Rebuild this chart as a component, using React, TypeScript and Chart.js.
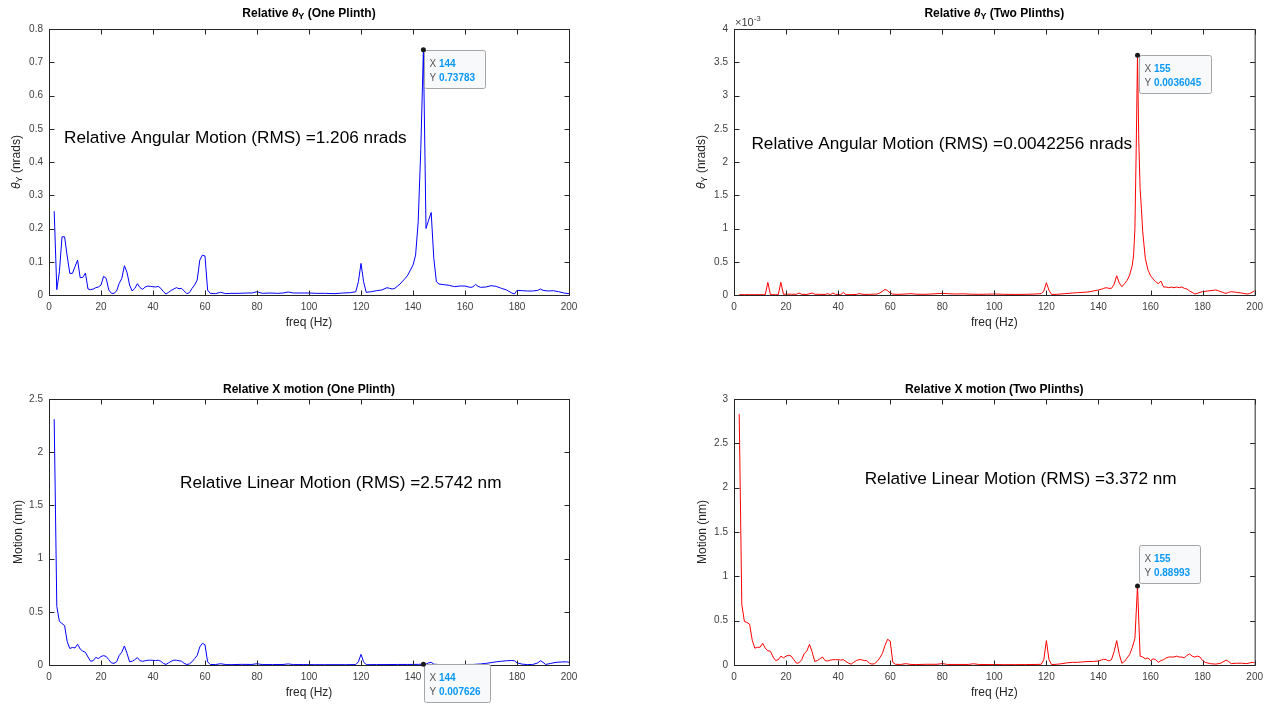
import React, { useEffect, useRef } from 'react';
import { Chart, registerables } from 'chart.js';

Chart.register(...registerables);

const FONT = '"Liberation Sans", Arial, Helvetica, sans-serif';
Chart.defaults.font.family = FONT;

// ---------- Data (freq in Hz) ----------
const freqThetaOne = [
  2, 3, 4, 5, 6, 7, 8, 9, 10, 11, 12, 13, 14, 15, 16, 17, 18, 19, 20, 21, 22, 23, 24, 25, 26, 27, 28, 29, 30, 31, 32,
  33, 34, 35, 36, 37, 38, 39, 40, 41, 42, 43, 44, 45, 46, 47, 48, 49, 50, 51, 52, 53, 54, 55, 56, 57, 58, 59, 60, 61,
  62, 64, 66, 68, 70, 73, 76, 78, 80, 82, 85, 88, 90, 92, 94, 97, 100, 103, 106, 110, 113, 116, 118, 119, 120, 121,
  122, 124, 126, 128, 130, 131, 132, 133, 135, 137, 138, 139, 140, 141, 142, 143, 144, 145, 146, 147, 148, 149, 150,
  152, 154, 156, 158, 160, 162, 163, 164, 165, 166, 168, 170, 172, 174, 176, 178, 179, 180, 182, 184, 186, 188, 189,
  190, 192, 194, 196, 198, 200,
];
const thetaOne = [
  0.252, 0.016, 0.07, 0.175, 0.175, 0.117, 0.065, 0.065, 0.085, 0.105, 0.052, 0.053, 0.066, 0.018, 0.016, 0.018,
  0.022, 0.024, 0.03, 0.056, 0.05, 0.015, 0.005, 0.005, 0.012, 0.035, 0.05, 0.088, 0.068, 0.03, 0.012, 0.02, 0.034,
  0.022, 0.017, 0.024, 0.027, 0.026, 0.025, 0.024, 0.026, 0.02, 0.01, 0.003, 0.008, 0.014, 0.018, 0.022, 0.019, 0.02,
  0.012, 0.004, 0.007, 0.02, 0.03, 0.045, 0.105, 0.12, 0.117, 0.015, 0.005, 0.004, 0.008, 0.004, 0.005, 0.005, 0.006,
  0.006, 0.01, 0.005, 0.006, 0.005, 0.006, 0.009, 0.006, 0.006, 0.006, 0.005, 0.005, 0.004, 0.006, 0.007, 0.01, 0.04,
  0.095, 0.04, 0.008, 0.01, 0.013, 0.015, 0.022, 0.02, 0.018, 0.02, 0.033, 0.05, 0.06, 0.075, 0.09, 0.12, 0.22, 0.44,
  0.73783, 0.2, 0.225, 0.248, 0.11, 0.04, 0.033, 0.031, 0.029, 0.025, 0.027, 0.027, 0.023, 0.024, 0.032, 0.026, 0.023,
  0.024, 0.028, 0.026, 0.02, 0.015, 0.006, 0.003, 0.014, 0.013, 0.012, 0.012, 0.014, 0.018, 0.014, 0.012, 0.013, 0.01,
  0.006, 0.004,
];

const freqThetaTwo = [
  2, 4, 6, 8, 10, 12, 13, 14, 16, 17, 18, 19, 20, 22, 24, 25, 26, 28, 30, 31, 33, 35, 36, 37, 38, 39, 41, 42, 43, 45,
  47, 48, 50, 52, 54, 55, 56, 57, 58, 59, 60, 61, 63, 66, 68, 70, 73, 76, 78, 80, 82, 85, 88, 91, 94, 97, 100, 104,
  108, 112, 116, 118, 119, 120, 121, 122, 124, 127, 130, 132, 134, 136, 138, 140, 141, 142, 143, 144, 145, 146, 147,
  148, 149, 150, 151, 152, 153, 153.5, 154, 154.5, 155, 155.5, 156, 156.5, 157, 158, 159, 160, 161, 162, 163, 164,
  165, 166, 167, 168, 169, 170, 171, 172, 173, 174, 175, 176, 177, 178, 179, 180, 182, 184, 185, 186, 188, 189, 190,
  191, 193, 195, 197, 198, 199, 200,
];
// values in units of 1e-3 nrads
const thetaTwoE3 = [
  0.005, 0.005, 0.005, 0.005, 0.005, 0.005, 0.19, 0.005, 0.005, 0.005, 0.19, 0.01, 0.012, 0.012, 0.01, 0.03, 0.01,
  0.008, 0.03, 0.012, 0.01, 0.008, 0.02, 0.005, 0.03, 0.01, 0.005, 0.04, 0.005, 0.006, 0.008, 0.02, 0.008, 0.01, 0.012,
  0.015, 0.03, 0.055, 0.085, 0.065, 0.03, 0.012, 0.01, 0.015, 0.02, 0.012, 0.01, 0.015, 0.02, 0.025, 0.02, 0.015, 0.018,
  0.012, 0.01, 0.012, 0.015, 0.01, 0.008, 0.01, 0.015, 0.02, 0.06, 0.185, 0.07, 0.008, 0.01, 0.02, 0.03, 0.035, 0.04,
  0.045, 0.06, 0.075, 0.085, 0.1, 0.11, 0.1, 0.1, 0.16, 0.29, 0.18, 0.125, 0.17, 0.22, 0.3, 0.45, 0.6, 1.0, 2.2,
  3.6045, 2.3, 1.6, 1.3, 0.95, 0.55, 0.38, 0.29, 0.24, 0.2, 0.17, 0.21, 0.12, 0.12, 0.11, 0.12, 0.11, 0.12, 0.11, 0.12,
  0.1, 0.09, 0.06, 0.04, 0.015, 0.025, 0.04, 0.05, 0.06, 0.07, 0.075, 0.065, 0.035, 0.025, 0.04, 0.05, 0.04, 0.03,
  0.015, 0.02, 0.04, 0.065,
];

const freqXOne = [
  2, 3, 4, 5, 6, 7, 8, 9, 10, 11, 12, 13, 14, 15, 16, 17, 18, 19, 20, 21, 22, 23, 24, 25, 26, 27, 28, 29, 30, 31, 32,
  33, 34, 35, 36, 37, 38, 39, 40, 41, 42, 43, 44, 45, 46, 47, 48, 49, 50, 51, 52, 53, 54, 55, 56, 57, 58, 59, 60, 61,
  62, 64, 66, 68, 70, 74, 78, 80, 82, 86, 90, 92, 94, 98, 102, 106, 110, 114, 118, 119, 120, 121, 122, 126, 130, 134,
  138, 142, 144, 145, 146, 147, 148, 150, 155, 160, 163, 166, 168, 170, 172, 174, 176, 178, 179, 180, 182, 184, 186,
  188, 189, 190, 191, 193, 195, 197, 199, 200,
];
const xOne = [
  2.31, 0.55, 0.41, 0.39, 0.37, 0.22, 0.155, 0.165, 0.16, 0.195, 0.15, 0.13, 0.12, 0.075, 0.035, 0.04, 0.072, 0.06,
  0.08, 0.088, 0.08, 0.05, 0.02, 0.015, 0.03, 0.09, 0.12, 0.179, 0.11, 0.03, 0.035, 0.05, 0.07, 0.04, 0.035, 0.04,
  0.045, 0.045, 0.044, 0.042, 0.045, 0.035, 0.015, 0.005, 0.02, 0.035, 0.045, 0.045, 0.04, 0.035, 0.015, 0.005, 0.01,
  0.03, 0.06, 0.09, 0.17, 0.204, 0.19, 0.03, 0.005, 0.004, 0.012, 0.004, 0.003, 0.006, 0.005, 0.012, 0.004, 0.004,
  0.005, 0.01, 0.004, 0.004, 0.003, 0.003, 0.003, 0.003, 0.004, 0.03, 0.1, 0.03, 0.003, 0.004, 0.004, 0.005, 0.005,
  0.006, 0.007626, 0.008, 0.02, 0.025, 0.008, 0.004, 0.004, 0.005, 0.005, 0.01, 0.015, 0.022, 0.03, 0.035, 0.04, 0.042,
  0.04, 0.02, 0.008, 0.004, 0.004, 0.02, 0.04, 0.025, 0.005, 0.015, 0.025, 0.028, 0.03, 0.025,
];

const freqXTwo = [
  2, 3, 4, 5, 6, 7, 8, 9, 10, 11, 12, 13, 14, 15, 16, 17, 18, 19, 20, 21, 22, 23, 24, 25, 26, 27, 28, 29, 30, 31, 32,
  33, 34, 35, 36, 37, 38, 39, 40, 41, 42, 43, 44, 45, 46, 47, 48, 49, 50, 51, 52, 53, 54, 55, 56, 57, 58, 59, 60, 61,
  62, 64, 66, 68, 70, 74, 78, 80, 82, 86, 90, 92, 94, 98, 100, 104, 108, 112, 116, 118, 119, 120, 121, 122, 124, 126,
  128, 130, 132, 134, 136, 138, 140, 141, 142, 143, 144, 145, 146, 147, 148, 149, 150, 151, 152, 153, 154, 155, 156,
  157, 158, 159, 160, 161, 162, 163, 164, 165, 166, 167, 168, 169, 170, 171, 172, 173, 174, 175, 176, 177, 178, 179,
  180, 181, 183, 185, 187, 189, 190, 191, 193, 195, 197, 199, 200,
];
const xTwo = [
  2.83, 0.68, 0.49, 0.48, 0.46, 0.28, 0.19, 0.2, 0.2, 0.245, 0.19, 0.16, 0.155, 0.09, 0.05, 0.06, 0.1, 0.08, 0.1, 0.11,
  0.1, 0.06, 0.02, 0.025, 0.06, 0.13, 0.16, 0.233, 0.15, 0.04, 0.05, 0.07, 0.09, 0.05, 0.045, 0.055, 0.06, 0.06, 0.06,
  0.055, 0.06, 0.04, 0.02, 0.01, 0.03, 0.05, 0.06, 0.06, 0.05, 0.05, 0.02, 0.01, 0.015, 0.04, 0.08, 0.13, 0.22, 0.29,
  0.27, 0.03, 0.008, 0.006, 0.015, 0.006, 0.005, 0.008, 0.008, 0.016, 0.006, 0.006, 0.006, 0.014, 0.006, 0.005, 0.005,
  0.004, 0.004, 0.005, 0.006, 0.008, 0.06, 0.275, 0.06, 0.005, 0.008, 0.015, 0.025, 0.03, 0.03, 0.035, 0.04, 0.04,
  0.045, 0.055, 0.065, 0.06, 0.045, 0.06, 0.15, 0.275, 0.12, 0.02, 0.04, 0.08, 0.12, 0.2, 0.3, 0.88993, 0.1, 0.09,
  0.07, 0.08, 0.05, 0.07, 0.06, 0.03, 0.05, 0.06, 0.08, 0.09, 0.09, 0.09, 0.1, 0.09, 0.09, 0.08, 0.11, 0.125, 0.1,
  0.09, 0.1, 0.09, 0.05, 0.03, 0.015, 0.01, 0.02, 0.055, 0.04, 0.015, 0.02, 0.02, 0.015, 0.03, 0.025,
];

const xTicks = [0, 20, 40, 60, 80, 100, 120, 140, 160, 180, 200];

// ---------- Rendering helpers ----------
type Seg = { text: string; font: string; dy?: number };

function drawSegs(ctx: CanvasRenderingContext2D, segs: Seg[], x: number, y: number, align: 'left' | 'center') {
  const widths = segs.map((s) => {
    ctx.font = s.font;
    return ctx.measureText(s.text).width;
  });
  const total = widths.reduce((a, b) => a + b, 0);
  let cx = align === 'center' ? x - total / 2 : x;
  ctx.textAlign = 'left';
  ctx.textBaseline = 'middle';
  segs.forEach((s, i) => {
    ctx.font = s.font;
    ctx.fillText(s.text, cx, y + (s.dy || 0));
    cx += widths[i];
  });
}

function thetaTitle(suffix: string): Seg[] {
  return [
    { text: 'Relative ', font: `bold 12px ${FONT}` },
    { text: 'θ', font: `italic bold 12px ${FONT}` },
    { text: 'Y', font: `bold 9px ${FONT}`, dy: 3 },
    { text: ' ' + suffix, font: `bold 12px ${FONT}` },
  ];
}

const thetaYLabel: Seg[] = [
  { text: 'θ', font: `italic 12px ${FONT}` },
  { text: 'Y', font: `9px ${FONT}`, dy: 3 },
  { text: ' (nrads)', font: `12px ${FONT}` },
];

interface PanelCfg {
  key: string;
  left: number;
  top: number;
  w: number;
  h: number;
  area: { l: number; t: number; r: number; b: number };
  points: { x: number; y: number }[];
  color: string;
  yMax: number;
  yStep: number;
  yFmt?: (v: number) => string;
  title: Seg[];
  titleY: number;
  yLabel: Seg[];
  yLabelDx: number;
  note: { text: string; x: number; y: number };
  tip: { x: number; y: number; xs: string; ys: string; above: boolean };
  exponent?: boolean;
}

function makePlugin(cfg: PanelCfg) {
  return {
    id: 'decor_' + cfg.key,
    afterDraw(chart: any) {
      const ctx: CanvasRenderingContext2D = chart.ctx;
      const { left: l, top: t, right: r, bottom: b } = chart.chartArea;
      const xs = chart.scales.x;
      const ys = chart.scales.y;
      ctx.save();
      // axes box
      ctx.strokeStyle = '#262626';
      ctx.lineWidth = 1;
      ctx.strokeRect(l + 0.5, t + 0.5, r - l, b - t);
      // inward ticks
      const TL = 5;
      ctx.beginPath();
      xs.ticks.forEach((tk: any) => {
        const px = Math.round(xs.getPixelForValue(tk.value)) + 0.5;
        ctx.moveTo(px, b + 0.5);
        ctx.lineTo(px, b + 0.5 - TL);
        ctx.moveTo(px, t + 0.5);
        ctx.lineTo(px, t + 0.5 + TL);
      });
      ys.ticks.forEach((tk: any) => {
        const py = Math.round(ys.getPixelForValue(tk.value)) + 0.5;
        ctx.moveTo(l + 0.5, py);
        ctx.lineTo(l + 0.5 + TL, py);
        ctx.moveTo(r + 0.5, py);
        ctx.lineTo(r + 0.5 - TL, py);
      });
      ctx.stroke();

      // title
      ctx.fillStyle = '#000';
      drawSegs(ctx, cfg.title, (l + r) / 2, cfg.titleY, 'center');

      // x label
      ctx.fillStyle = '#262626';
      drawSegs(ctx, [{ text: 'freq (Hz)', font: `12px ${FONT}` }], (l + r) / 2, b + 28, 'center');

      // y label (rotated)
      ctx.save();
      ctx.translate(l + cfg.yLabelDx, (t + b) / 2);
      ctx.rotate(-Math.PI / 2);
      drawSegs(ctx, cfg.yLabel, 0, 0, 'center');
      ctx.restore();

      // exponent
      if (cfg.exponent) {
        ctx.fillStyle = '#404040';
        drawSegs(
          ctx,
          [
            { text: '×10', font: `11px ${FONT}` },
            { text: '-3', font: `8px ${FONT}`, dy: -4 },
          ],
          l + 1,
          t - 6,
          'left'
        );
      }

      // annotation text
      ctx.fillStyle = '#000';
      drawSegs(
        ctx,
        [{ text: cfg.note.text, font: `17.2px ${FONT}` }],
        xs.getPixelForValue(cfg.note.x),
        ys.getPixelForValue(cfg.note.y),
        'left'
      );

      // data tip
      const px = xs.getPixelForValue(cfg.tip.x);
      const py = ys.getPixelForValue(cfg.tip.y);
      const fN = `10px ${FONT}`;
      const fB = `bold 10px ${FONT}`;
      ctx.font = fN;
      const wX = ctx.measureText('X ').width;
      const wY = ctx.measureText('Y ').width;
      ctx.font = fB;
      const vX = ctx.measureText(cfg.tip.xs).width;
      const vY = ctx.measureText(cfg.tip.ys).width;
      const bw = Math.round(Math.max(wX + vX, wY + vY) + 15);
      const bh = 38;
      const bx = Math.round(px) + 1.5;
      const by = cfg.tip.above ? Math.round(py) - 2.5 - bh : Math.round(py) + 0.5;
      ctx.beginPath();
      const rr = 2;
      ctx.moveTo(bx + rr, by);
      ctx.lineTo(bx + bw - rr, by);
      ctx.arcTo(bx + bw, by, bx + bw, by + rr, rr);
      ctx.lineTo(bx + bw, by + bh - rr);
      ctx.arcTo(bx + bw, by + bh, bx + bw - rr, by + bh, rr);
      ctx.lineTo(bx + rr, by + bh);
      ctx.arcTo(bx, by + bh, bx, by + bh - rr, rr);
      ctx.lineTo(bx, by + rr);
      ctx.arcTo(bx, by, bx + rr, by, rr);
      ctx.closePath();
      ctx.fillStyle = '#f8f9fb';
      ctx.fill();
      ctx.strokeStyle = '#a5a5a5';
      ctx.lineWidth = 1;
      ctx.stroke();
      const tx = bx + 5;
      ctx.textAlign = 'left';
      ctx.textBaseline = 'middle';
      ctx.font = fN;
      ctx.fillStyle = '#555';
      ctx.fillText('X', tx, by + 13.5);
      ctx.fillText('Y', tx, by + 27.5);
      ctx.font = fB;
      ctx.fillStyle = '#0a98f5';
      ctx.fillText(cfg.tip.xs, tx + wX, by + 13.5);
      ctx.fillText(cfg.tip.ys, tx + wY, by + 27.5);
      // marker
      ctx.beginPath();
      ctx.arc(px, py, 2.5, 0, Math.PI * 2);
      ctx.fillStyle = '#1a1a1a';
      ctx.fill();
      ctx.restore();
    },
  };
}

function toPoints(f: number[], v: number[], k = 1) {
  return f.map((x, i) => ({ x, y: v[i] * k }));
}

const PANELS: PanelCfg[] = [
  {
    key: 'a',
    left: 0,
    top: 0,
    w: 634,
    h: 353,
    area: { l: 49, t: 29, r: 569, b: 295 },
    points: toPoints(freqThetaOne, thetaOne),
    color: '#0000ff',
    yMax: 0.8,
    yStep: 0.1,
    title: thetaTitle('(One Plinth)'),
    titleY: 14,
    yLabel: thetaYLabel,
    yLabelDx: -32,
    note: { text: 'Relative Angular Motion (RMS) =1.206 nrads', x: 5.8, y: 0.472 },
    tip: { x: 144, y: 0.73783, xs: '144', ys: '0.73783', above: false },
  },
  {
    key: 'b',
    left: 634,
    top: 0,
    w: 635,
    h: 353,
    area: { l: 100, t: 29, r: 621, b: 295 },
    points: toPoints(freqThetaTwo, thetaTwoE3, 1e-3),
    color: '#ff0000',
    yMax: 0.004,
    yStep: 0.0005,
    yFmt: (v: number) => (v * 1000).toFixed(1).replace(/\.0$/, ''),
    title: thetaTitle('(Two Plinths)'),
    titleY: 14,
    yLabel: thetaYLabel,
    yLabelDx: -32,
    note: { text: 'Relative Angular Motion (RMS) =0.0042256 nrads', x: 6.7, y: 0.00227 },
    tip: { x: 155, y: 0.0036045, xs: '155', ys: '0.0036045', above: false },
    exponent: true,
  },
  {
    key: 'c',
    left: 0,
    top: 353,
    w: 634,
    h: 353,
    area: { l: 49, t: 46, r: 569, b: 312 },
    points: toPoints(freqXOne, xOne),
    color: '#0000ff',
    yMax: 2.5,
    yStep: 0.5,
    title: [{ text: 'Relative X motion (One Plinth)', font: `bold 12px ${FONT}` }],
    titleY: 37,
    yLabel: [{ text: 'Motion (nm)', font: `12px ${FONT}` }],
    yLabelDx: -30,
    note: { text: 'Relative Linear Motion (RMS) =2.5742 nm', x: 50.4, y: 1.71 },
    tip: { x: 144, y: 0.007626, xs: '144', ys: '0.007626', above: false },
  },
  {
    key: 'd',
    left: 634,
    top: 353,
    w: 635,
    h: 353,
    area: { l: 100, t: 46, r: 621, b: 312 },
    points: toPoints(freqXTwo, xTwo),
    color: '#ff0000',
    yMax: 3,
    yStep: 0.5,
    title: [{ text: 'Relative X motion (Two Plinths)', font: `bold 12px ${FONT}` }],
    titleY: 37,
    yLabel: [{ text: 'Motion (nm)', font: `12px ${FONT}` }],
    yLabelDx: -31,
    note: { text: 'Relative Linear Motion (RMS) =3.372 nm', x: 50.2, y: 2.1 },
    tip: { x: 155, y: 0.88993, xs: '155', ys: '0.88993', above: true },
  },
];

function Panel({ cfg }: { cfg: PanelCfg }) {
  const ref = useRef<HTMLCanvasElement | null>(null);
  useEffect(() => {
    if (!ref.current) return;
    const chart = new Chart(ref.current, {
      type: 'line',
      data: {
        datasets: [
          {
            data: cfg.points,
            borderColor: cfg.color,
            backgroundColor: cfg.color,
            borderWidth: 1,
            pointRadius: 0,
            fill: false,
            tension: 0,
          },
        ],
      },
      options: {
        animation: false,
        responsive: false,
        devicePixelRatio: 1,
        events: [],
        layout: {
          padding: { left: 0, top: cfg.area.t, right: cfg.w - cfg.area.r, bottom: 0 },
        },
        plugins: { legend: { display: false }, tooltip: { enabled: false }, title: { display: false } },
        scales: {
          x: {
            type: 'linear',
            min: 0,
            max: 200,
            afterBuildTicks: (s: any) => {
              s.ticks = xTicks.map((v) => ({ value: v }));
            },
            grid: { display: false, drawTicks: false },
            border: { display: false },
            ticks: {
              padding: 6,
              color: '#404040',
              font: { size: 10, family: FONT },
              maxRotation: 0,
              autoSkip: false,
            },
            afterFit: (s: any) => {
              s.height = cfg.h - cfg.area.b;
            },
          },
          y: {
            type: 'linear',
            min: 0,
            max: cfg.yMax,
            grid: { display: false, drawTicks: false },
            border: { display: false },
            ticks: {
              stepSize: cfg.yStep,
              padding: 6,
              color: '#404040',
              font: { size: 10, family: FONT },
              callback: (v: any) => (cfg.yFmt ? cfg.yFmt(Number(v)) : String(+Number(v).toFixed(4))),
            },
            afterFit: (s: any) => {
              s.width = cfg.area.l;
            },
          },
        },
      } as any,
      plugins: [makePlugin(cfg)],
    });
    return () => chart.destroy();
  }, []);
  return (
    <canvas
      ref={ref}
      width={cfg.w}
      height={cfg.h}
      style={{ position: 'absolute', left: cfg.left, top: cfg.top, width: cfg.w, height: cfg.h }}
    />
  );
}

export default function App() {
  return (
    <div style={{ position: 'absolute', left: 0, top: 0, width: 1269, height: 706, background: '#fff' }}>
      {PANELS.map((p) => (
        <Panel key={p.key} cfg={p} />
      ))}
    </div>
  );
}
